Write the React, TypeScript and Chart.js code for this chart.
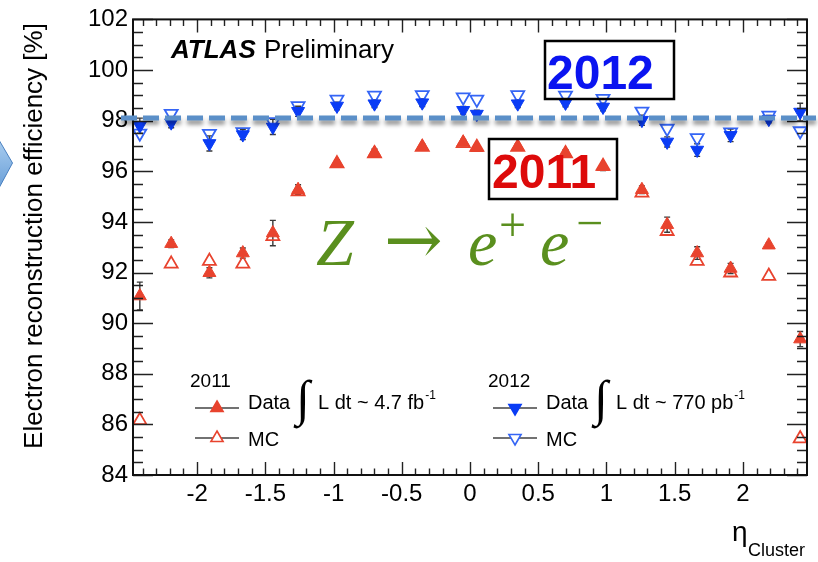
import React, { useEffect, useRef } from 'react';
import { Chart, registerables } from 'chart.js';
Chart.register(...registerables);

// eta bin centres
const etaBins = [-2.42, -2.19, -1.91, -1.665, -1.445, -1.26, -0.975, -0.7, -0.35, -0.05, 0.05, 0.35, 0.7, 0.975, 1.26, 1.445, 1.665, 1.91, 2.19, 2.42];
// 2011
const data2011 = [91.07, 93.14, 91.99, 92.77, 93.56, 95.27, 96.31, 96.73, 96.97, 97.14, 96.93, 96.97, 96.7, 96.18, 95.27, 93.89, 92.77, 92.16, 93.08, 89.37];
const err2011 = [0.55, 0.15, 0.2, 0.2, 0.5, 0.2, 0.15, 0.15, 0.12, 0.12, 0.12, 0.12, 0.15, 0.15, 0.15, 0.3, 0.25, 0.2, 0.1, 0.3];
const mc2011 = [86.16, 92.34, 92.45, 92.34, 93.43, 95.2, 96.3, 96.7, 96.95, 97.1, 96.95, 96.95, 96.7, 96.2, 95.15, 93.63, 92.45, 91.99, 91.86, 85.44];
// 2012
const data2012 = [97.8, 97.92, 97.1, 97.45, 97.75, 98.37, 98.58, 98.67, 98.71, 98.41, 98.26, 98.67, 98.7, 98.54, 98.02, 97.16, 96.84, 97.42, 98.06, 98.34];
const err2012 = [0.3, 0.2, 0.3, 0.2, 0.3, 0.2, 0.15, 0.15, 0.15, 0.15, 0.15, 0.15, 0.15, 0.15, 0.2, 0.2, 0.25, 0.25, 0.15, 0.35];
const mc2012 = [97.5, 98.28, 97.49, 97.56, 97.95, 98.58, 98.84, 99.0, 99.02, 98.93, 98.84, 99.02, 99.0, 98.87, 98.37, 97.69, 97.32, 97.55, 98.21, 97.59];

const refLineValue = 98.1;
const xMin = -2.47;
const xMax = 2.47;
const yMin = 84;
const yMax = 102;
const xMajorStep = 0.5;
const xMinorStep = 0.1;
const yMajorStep = 2;
const yMinorStep = 0.5;

const yTitle = 'Electron reconstruction efficiency [%]';
const legend2011 = { year: '2011', data: 'Data', lumi: 'L dt ~ 4.7 fb', mc: 'MC' };
const legend2012 = { year: '2012', data: 'Data', lumi: 'L dt ~ 770 pb', mc: 'MC' };

const RED = '#e8432e';
const BLUE = '#0a3cf5';
const BLUE_MC = '#3565f5';
const SANS = '"Liberation Sans", Arial, Helvetica, sans-serif';
const SERIF = '"Liberation Serif", "Times New Roman", serif';

const toPts = (ys: number[]) => etaBins.map((x, i) => ({ x, y: ys[i] }));

function drawTriangle(ctx: CanvasRenderingContext2D, x: number, y: number, r: number, down: boolean, fill: string | null, stroke: string) {
  const s = down ? -1 : 1;
  ctx.beginPath();
  ctx.moveTo(x, y - s * r);
  ctx.lineTo(x + r * 0.866, y + s * r * 0.5);
  ctx.lineTo(x - r * 0.866, y + s * r * 0.5);
  ctx.closePath();
  if (fill) { ctx.fillStyle = fill; ctx.fill(); }
  ctx.strokeStyle = stroke; ctx.lineWidth = 1.6; ctx.stroke();
}

const decorPlugin = {
  id: 'decor',
  beforeDatasetsDraw(chart: any) {
    const ctx = chart.ctx as CanvasRenderingContext2D;
    const xs = chart.scales.x, ys = chart.scales.y;
    ctx.save();
    ctx.strokeStyle = '#3a3a3a';
    ctx.lineWidth = 1.4;
    const drawErr = (vals: number[], errs: number[]) => {
      vals.forEach((v, i) => {
        const px = xs.getPixelForValue(etaBins[i]);
        const y1 = ys.getPixelForValue(v - errs[i]);
        const y2 = ys.getPixelForValue(v + errs[i]);
        ctx.beginPath();
        ctx.moveTo(px, y1); ctx.lineTo(px, y2);
        ctx.moveTo(px - 3, y1); ctx.lineTo(px + 3, y1);
        ctx.moveTo(px - 3, y2); ctx.lineTo(px + 3, y2);
        ctx.stroke();
      });
    };
    drawErr(data2011, err2011);
    drawErr(data2012, err2012);
    ctx.restore();
  },
  afterDraw(chart: any) {
    const ctx = chart.ctx as CanvasRenderingContext2D;
    const xs = chart.scales.x, ys = chart.scales.y;
    const a = chart.chartArea;
    ctx.save();

    // ticks (inside)
    ctx.strokeStyle = '#222';
    ctx.lineWidth = 1.4;
    ctx.beginPath();
    for (let v = yMin; v <= yMax + 1e-6; v += yMinorStep) {
      const py = Math.round(ys.getPixelForValue(v)) + 0.5;
      const major = Math.abs(v / yMajorStep - Math.round(v / yMajorStep)) < 1e-6;
      const len = major ? 20 : 10;
      ctx.moveTo(a.left, py); ctx.lineTo(a.left + len, py);
      ctx.moveTo(a.right, py); ctx.lineTo(a.right - len, py);
    }
    for (let k = Math.ceil(xMin / xMinorStep); k * xMinorStep <= xMax + 1e-6; k++) {
      const v = k * xMinorStep;
      const px = Math.round(xs.getPixelForValue(v)) + 0.5;
      const major = k % 5 === 0;
      const len = major ? 13 : 6.5;
      ctx.moveTo(px, a.bottom); ctx.lineTo(px, a.bottom - len);
      ctx.moveTo(px, a.top); ctx.lineTo(px, a.top + len);
    }
    ctx.stroke();

    // frame
    ctx.lineWidth = 2;
    ctx.strokeStyle = '#111';
    ctx.strokeRect(a.left, a.top, a.right - a.left, a.bottom - a.top);

    // ATLAS Preliminary
    ctx.fillStyle = '#000';
    ctx.textBaseline = 'alphabetic';
    ctx.textAlign = 'left';
    ctx.font = `italic bold 26px ${SANS}`;
    ctx.fillText('ATLAS', 171, 58);
    ctx.font = `26px ${SANS}`;
    ctx.fillText('Preliminary', 264, 58);

    // legend
    const drawLegend = (lg: any, x0: number, color: string, mcColor: string, down: boolean) => {
      ctx.fillStyle = '#000';
      ctx.font = `19px ${SANS}`;
      ctx.textBaseline = 'middle';
      ctx.textAlign = 'left';
      ctx.fillText(lg.year, x0 - 5, 382);
      ctx.strokeStyle = '#444';
      ctx.lineWidth = 1.5;
      ctx.beginPath();
      ctx.moveTo(x0, 408); ctx.lineTo(x0 + 44, 408);
      ctx.moveTo(x0, 438); ctx.lineTo(x0 + 44, 438);
      ctx.stroke();
      drawTriangle(ctx, x0 + 22, 408, 7, down, color, color);
      drawTriangle(ctx, x0 + 22, 438, 7, down, '#fff', mcColor);
      ctx.fillStyle = '#000';
      ctx.font = `20px ${SANS}`;
      ctx.fillText(lg.data, x0 + 53, 403);
      ctx.fillText(lg.mc, x0 + 53, 440);
      ctx.font = `50px ${SERIF}`;
      ctx.fillText('\u222B', x0 + 101, 402);
      ctx.font = `20px ${SANS}`;
      ctx.fillText(lg.lumi, x0 + 123, 403);
      const w = ctx.measureText(lg.lumi).width;
      ctx.font = `12px ${SANS}`;
      ctx.fillText('-1', x0 + 124 + w, 396);
    };
    drawLegend(legend2011, 195, RED, RED, false);
    drawLegend(legend2012, 493, BLUE, BLUE_MC, true);

    // dashed reference line with shadow
    const ry = ys.getPixelForValue(refLineValue);
    ctx.save();
    ctx.setLineDash([16, 6]);
    ctx.lineWidth = 5;
    ctx.strokeStyle = '#5b8fc8';
    ctx.shadowColor = 'rgba(0,0,0,0.45)';
    ctx.shadowBlur = 4;
    ctx.shadowOffsetY = 4;
    ctx.beginPath();
    ctx.moveTo(121, ry); ctx.lineTo(816, ry);
    ctx.stroke();
    ctx.restore();

    // year boxes
    ctx.lineWidth = 2.5;
    ctx.strokeStyle = '#000';
    ctx.strokeRect(545, 41, 129, 58);
    ctx.strokeRect(489, 139, 128, 60);
    ctx.textBaseline = 'alphabetic';
    ctx.textAlign = 'left';
    ctx.font = `bold 48px ${SANS}`;
    ctx.fillStyle = '#0a14f0';
    ctx.fillText('2012', 547, 89);
    ctx.fillStyle = '#dd0a0a';
    ctx.fillText('2011', 492, 188);

    // Z -> e+ e-
    ctx.fillStyle = '#5a8f1e';
    ctx.font = `italic 68px ${SERIF}`;
    ctx.fillText('Z', 316, 265);
    ctx.font = `70px "DejaVu Serif", serif`;
    ctx.textBaseline = 'middle';
    ctx.fillText('\u2192', 384, 246);
    ctx.textBaseline = 'alphabetic';
    ctx.font = `italic 66px ${SERIF}`;
    ctx.fillText('e', 468, 265);
    ctx.fillText('e', 540, 265);
    ctx.font = `48px ${SERIF}`;
    ctx.textBaseline = 'middle';
    ctx.fillText('+', 499, 228);
    ctx.fillText('\u2212', 576, 226);

    // axis titles
    ctx.fillStyle = '#000';
    ctx.save();
    ctx.translate(35, 236);
    ctx.rotate(-Math.PI / 2);
    ctx.textAlign = 'center';
    ctx.textBaseline = 'middle';
    ctx.font = `26px ${SANS}`;
    ctx.fillText(yTitle, 0, 0);
    ctx.restore();
    ctx.textAlign = 'left';
    ctx.textBaseline = 'alphabetic';
    ctx.font = `28px ${SANS}`;
    ctx.fillText('\u03B7', 732, 541);
    ctx.font = `18px ${SANS}`;
    ctx.fillText('Cluster', 748, 556);

    // blue arrow at left edge
    const g = ctx.createLinearGradient(0, 140, 0, 188);
    g.addColorStop(0, '#a9cdf0');
    g.addColorStop(1, '#6a9fd8');
    ctx.fillStyle = g;
    ctx.strokeStyle = '#4a80c0';
    ctx.lineWidth = 1;
    ctx.beginPath();
    ctx.moveTo(-1, 140); ctx.lineTo(12.5, 163); ctx.lineTo(-1, 188);
    ctx.closePath();
    ctx.fill();
    ctx.stroke();

    ctx.restore();
  },
};

export default function App() {
  const ref = useRef<HTMLCanvasElement | null>(null);
  useEffect(() => {
    document.body.style.margin = '0';
    const canvas = ref.current!;
    const chart = new Chart(canvas, {
      type: 'scatter',
      data: {
        datasets: [
          { label: '2012 Data', data: toPts(data2012), pointStyle: 'triangle', rotation: 180, radius: 7.5, backgroundColor: BLUE, borderColor: BLUE, borderWidth: 1 } as any,
          { label: '2012 MC', data: toPts(mc2012), pointStyle: 'triangle', rotation: 180, radius: 7.5, backgroundColor: 'rgba(255,255,255,0)', borderColor: BLUE_MC, borderWidth: 1.8 } as any,
          { label: '2011 Data', data: toPts(data2011), pointStyle: 'triangle', radius: 7.5, backgroundColor: RED, borderColor: RED, borderWidth: 1 } as any,
          { label: '2011 MC', data: toPts(mc2011), pointStyle: 'triangle', radius: 7.5, backgroundColor: 'rgba(255,255,255,0)', borderColor: RED, borderWidth: 1.8 } as any,
        ],
      },
      options: {
        responsive: false,
        animation: false,
        devicePixelRatio: 1,
        layout: { padding: { top: 17, right: 11, left: 0, bottom: 0 } },
        plugins: { legend: { display: false }, tooltip: { enabled: false } },
        scales: {
          x: {
            type: 'linear', min: xMin, max: xMax,
            grid: { display: false, drawTicks: false },
            border: { display: false },
            ticks: { stepSize: xMajorStep, includeBounds: false, padding: 5, color: '#000', font: { size: 24, family: SANS }, callback: (v: any) => String(v) },
            afterFit: (s: any) => { s.height = 87; },
          },
          y: {
            type: 'linear', min: yMin, max: yMax,
            grid: { display: false, drawTicks: false },
            border: { display: false },
            ticks: { stepSize: yMajorStep, padding: 5, color: '#000', font: { size: 24, family: SANS }, callback: (v: any) => String(v) },
            afterFit: (s: any) => { s.width = 133; },
          },
        },
      } as any,
      plugins: [decorPlugin],
    });
    return () => chart.destroy();
  }, []);
  return (
    <div style={{ position: 'absolute', left: 0, top: 0, width: 818, height: 562, background: '#fff' }}>
      <canvas ref={ref} width={818} height={562} style={{ display: 'block' }} />
    </div>
  );
}
